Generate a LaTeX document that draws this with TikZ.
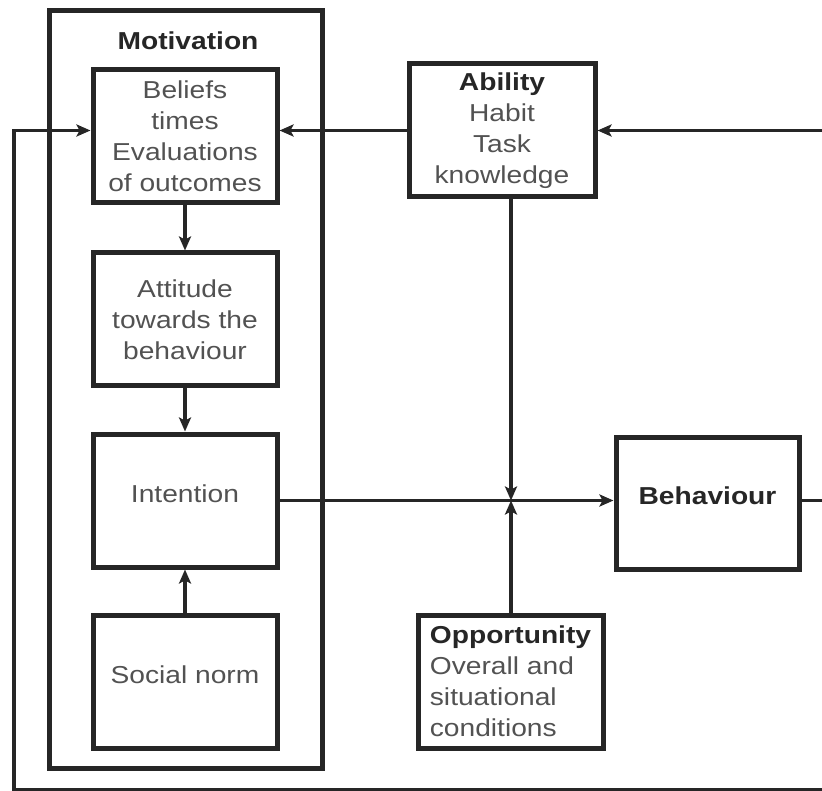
\documentclass[tikz,border=0pt]{standalone}
\usepackage{fontspec}
\setmainfont[FakeStretch=1.15]{Liberation Sans}
\usetikzlibrary{arrows.meta,calc}

\tikzset{
  box/.style={draw=black!85, line width=5pt, minimum width=184pt, minimum height=133pt,
    inner sep=0pt, align=center, text=black!68, font=\fontsize{24.5}{31}\selectfont},
  raised/.style={text depth=14pt},
  frame/.style={draw=black!85, line width=5pt, minimum width=273pt, minimum height=757pt, inner sep=0pt},
  link/.style={draw=black!85, line width=3.5pt},
  arr/.style={link, -{Stealth[length=14pt,width=12pt,inset=3pt]}},
}
\newcommand{\hd}[1]{\textbf{\color{black!85}#1}}

\begin{document}
\begin{tikzpicture}[x=1pt,y=-1pt]
		%%%%% START %%%%%
		\useasboundingbox (0,0) rectangle (822,791);
		
		\node[frame] (motivation) at (185.5,389.5) {};
		\node[font=\fontsize{24.5}{31}\selectfont] (mottitle) at (188,41) {\hd{Motivation}};
		
		\node[box] (beliefs) at (185,136) {Beliefs\\times\\Evaluations\\of outcomes};
		\node[box] (attitude) at (185,319.5) {Attitude\\towards the\\behaviour};
		\node[box, raised] (intention) at (185,500.5) {Intention};
		\node[box, raised] (social) at (185,681.5) {Social norm};
		
		\node[box, minimum width=186pt] (ability) at (502,130.5) {\hd{Ability}\\Habit\\Task\\knowledge};
		\node[box, raised, minimum width=183pt, minimum height=132pt] (behaviour) at (707.5,503) {\hd{Behaviour}};
		\node[box, minimum width=185pt, align=left] (opportunity) at (510.5,681.5) {\hd{Opportunity}\\Overall and\\situational\\conditions};
		
		\coordinate (jn) at (511,500.5);
		\coordinate (fbbot) at (824,790);
		\coordinate (fbleft) at (14,790);
		
		\draw[arr] (beliefs) -- (attitude);
		\draw[arr] (attitude) -- (intention);
		\draw[arr] (social) -- (intention);
		\draw[arr] (ability.west) -- (ability.west -| beliefs.east);
		\draw[arr] (intention.east |- jn) -- (jn -| behaviour.west);
		\draw[arr] (ability.south -| jn) -- (jn);
		\draw[arr] (opportunity.north -| jn) -- (jn);
		
		% feedback from behaviour
		\draw[link] (behaviour.east |- jn) -- (jn -| fbbot);
		\draw[arr] (fbbot) |- (ability.east);
		\draw[arr] (fbbot) -- (fbleft) |- (beliefs.west |- ability.west);
		%%%%% END %%%%%
\end{tikzpicture}
\end{document}
